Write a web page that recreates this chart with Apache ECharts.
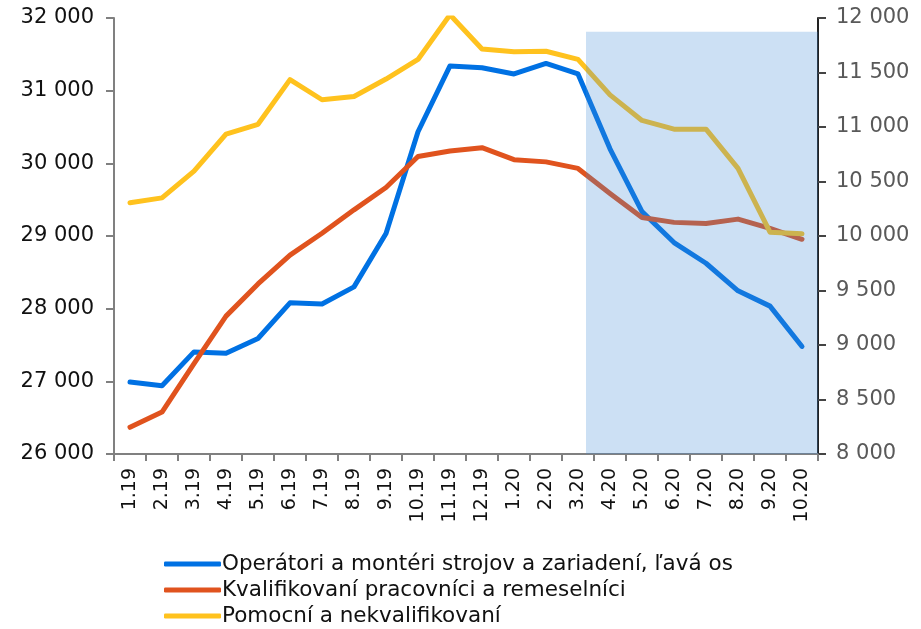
<!DOCTYPE html>
<html><head><meta charset="utf-8">
<script src="https://cdn.jsdelivr.net/npm/echarts@6/dist/echarts.min.js"></script>
<style>html,body{margin:0;padding:0;background:#fff}#c{width:921px;height:629px}</style>
</head><body><div id="c"></div>
<script>
const categories = ['1.19','2.19','3.19','4.19','5.19','6.19','7.19','8.19','9.19','10.19','11.19','12.19','1.20','2.20','3.20','4.20','5.20','6.20','7.20','8.20','9.20','10.20'];
const operatori = [26990,26940,27405,27385,27590,28080,28065,28300,29035,30435,31340,31315,31230,31375,31230,30200,29335,28910,28625,28245,28035,27480];
const kvalifikovani = [8245,8385,8830,9265,9560,9825,10025,10240,10445,10730,10780,10810,10700,10680,10620,10390,10170,10125,10115,10155,10070,9970];
const pomocni = [10305,10350,10595,10935,11025,11435,11250,11280,11440,11620,12030,11715,11690,11695,11620,11295,11060,10980,10980,10620,10035,10020];
const seriesNames = ['Operátori a montéri strojov a zariadení, ľavá os','Kvalifikovaní pracovníci a remeselníci','Pomocní a nekvalifikovaní'];
const leftTicks = {min:26000,max:32000,step:1000};
const rightTicks = {min:8000,max:12000,step:500};
const shadeFrom = 14.75, shadeTo = 22, shadeTopLeft = 31810;

const fmt = v => { const s = String(Math.round(v)); return s.length>3 ? s.slice(0,-3)+' '+s.slice(-3) : s; };
const FONT = 'DejaVu Sans';
const chart = echarts.init(document.getElementById('c'), null, {renderer:'canvas'});
chart.setOption({
  animation:false,
  backgroundColor:'#fff',
  grid:{left:114,right:103,top:18,bottom:175,containLabel:false},
  legend:{
    orient:'vertical', left:164, top:553, padding:0, height:90, width:720,
    data:seriesNames, itemWidth:57, itemHeight:5, itemGap:4, icon:'roundRect',
    textStyle:{fontFamily:FONT, fontSize:21.5, lineHeight:22, color:'#111', padding:[0,0,0,-4]}
  },
  xAxis:[{
    type:'category', data:categories, boundaryGap:true,
    axisLine:{lineStyle:{color:'#808080',width:2}},
    axisTick:{show:true,length:7,lineStyle:{color:'#808080',width:2}},
    axisLabel:{interval:0,rotate:90,fontFamily:FONT,fontSize:19,color:'#111',margin:14}
  },{
    type:'value', min:0, max:categories.length, show:false
  }],
  yAxis:[{
    type:'value', position:'left', min:leftTicks.min, max:leftTicks.max, interval:leftTicks.step,
    axisLine:{show:true,lineStyle:{color:'#808080',width:2}},
    axisTick:{show:true,length:8,lineStyle:{color:'#808080',width:2}},
    splitLine:{show:false},
    axisLabel:{formatter:fmt,fontFamily:FONT,fontSize:21,color:'#111',margin:20}
  },{
    type:'value', position:'right', min:rightTicks.min, max:rightTicks.max, interval:rightTicks.step,
    axisLine:{show:true,lineStyle:{color:'#222',width:2}},
    axisTick:{show:true,length:8,lineStyle:{color:'#444',width:2}},
    splitLine:{show:false},
    axisLabel:{formatter:fmt,fontFamily:FONT,fontSize:21,color:'#595959',margin:18}
  }],
  series:[
    {name:seriesNames[0],type:'line',yAxisIndex:0,data:operatori,showSymbol:false,symbol:'none',
     lineStyle:{color:'#0071E3',width:5,cap:'round',join:'round'},itemStyle:{color:'#0071E3'},z:2},
    {name:seriesNames[1],type:'line',yAxisIndex:1,data:kvalifikovani,showSymbol:false,symbol:'none',
     lineStyle:{color:'#E0531E',width:5,cap:'round',join:'round'},itemStyle:{color:'#E0531E'},z:2},
    {name:seriesNames[2],type:'line',yAxisIndex:1,data:pomocni,showSymbol:false,symbol:'none',
     lineStyle:{color:'#FFC21E',width:5,cap:'round',join:'round'},itemStyle:{color:'#FFC21E'},z:2},
    {name:'shade',type:'custom',xAxisIndex:1,yAxisIndex:0,silent:true,z:20,clip:false,
     data:[[shadeFrom,shadeTo,shadeTopLeft,leftTicks.min]],
     renderItem:function(params,api){
       const p1 = api.coord([api.value(0), api.value(2)]);
       const p2 = api.coord([api.value(1), api.value(3)]);
       return {type:'rect', z2:100,
         shape:{x:p1[0], y:p1[1], width:p2[0]-p1[0], height:p2[1]-p1[1]},
         style:{fill:'rgba(66,140,215,0.27)'}};
     }}
  ]
});
</script></body></html>
